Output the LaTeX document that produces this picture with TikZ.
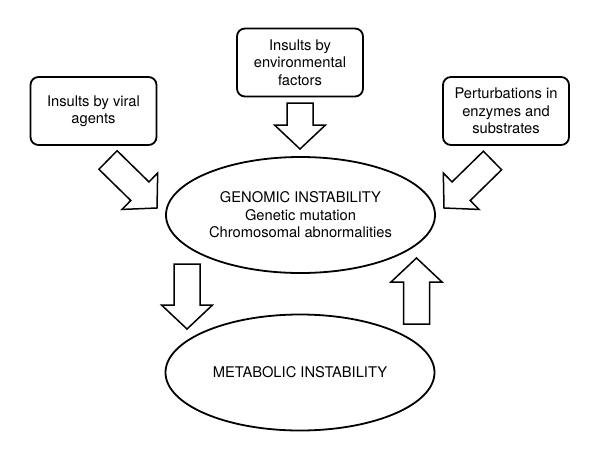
\documentclass[tikz,border=0pt]{standalone}
\usepackage{fontspec}
\setmainfont{TeX Gyre Heros}
\usetikzlibrary{calc,shapes.geometric}
\tikzset{
  box/.style={draw=black, rounded corners=8pt, line width=1.8pt, minimum width=126pt, minimum height=68pt, align=center},
  blob/.style={shape=ellipse, draw=black, line width=1.8pt, minimum width=269pt, minimum height=116pt, align=center, inner sep=0pt},
  fatarrow/.style={line width=1.5pt, to path={
    ($(\tikztostart)!13pt!90:(\tikztotarget)$)
    -- ($(\tikztotarget)!24pt!(\tikztostart)!13pt!-90:(\tikztostart)$)
    -- ($(\tikztotarget)!24pt!(\tikztostart)!25.5pt!-90:(\tikztostart)$)
    -- (\tikztotarget)
    -- ($(\tikztotarget)!24pt!(\tikztostart)!25.5pt!90:(\tikztostart)$)
    -- ($(\tikztotarget)!24pt!(\tikztostart)!13pt!90:(\tikztostart)$)
    -- ($(\tikztostart)!13pt!-90:(\tikztotarget)$)
    -- cycle}}
}
\begin{document}
\begin{tikzpicture}[x=1pt, y=-1pt, font=\fontsize{14.7}{17.5}\selectfont]
\useasboundingbox (0,0) rectangle (600,459);
\node[box] (viral) at (93.5,111) {Insults by viral\\agents};
\node[box] (env) at (300,62.5) {Insults by\\environmental\\factors};
\node[box] (enzymes) at (506,111) {Perturbations in\\enzymes and\\substrates};
\node[blob] (genomic) at (300.5,215) {GENOMIC INSTABILITY\\Genetic mutation\\Chromosomal abnormalities};
\node[blob] (metabolic) at (300,372.5) {METABOLIC INSTABILITY};
\coordinate (v1) at (108,160);
\coordinate (v2) at (157,208);
\coordinate (e1) at (300,103);
\coordinate (e2) at (300,149);
\coordinate (p1) at (492.5,160.5);
\coordinate (p2) at (444,208);
\coordinate (g1) at (187,264);
\coordinate (g2) at (187,329);
\coordinate (m1) at (416.5,324);
\coordinate (m2) at (416.5,258);
\draw[fatarrow] (v1) to (v2);
\draw[fatarrow] (e1) to (e2);
\draw[fatarrow] (p1) to (p2);
\draw[fatarrow] (g1) to (g2);
\draw[fatarrow] (m1) to (m2);
\end{tikzpicture}
\end{document}
